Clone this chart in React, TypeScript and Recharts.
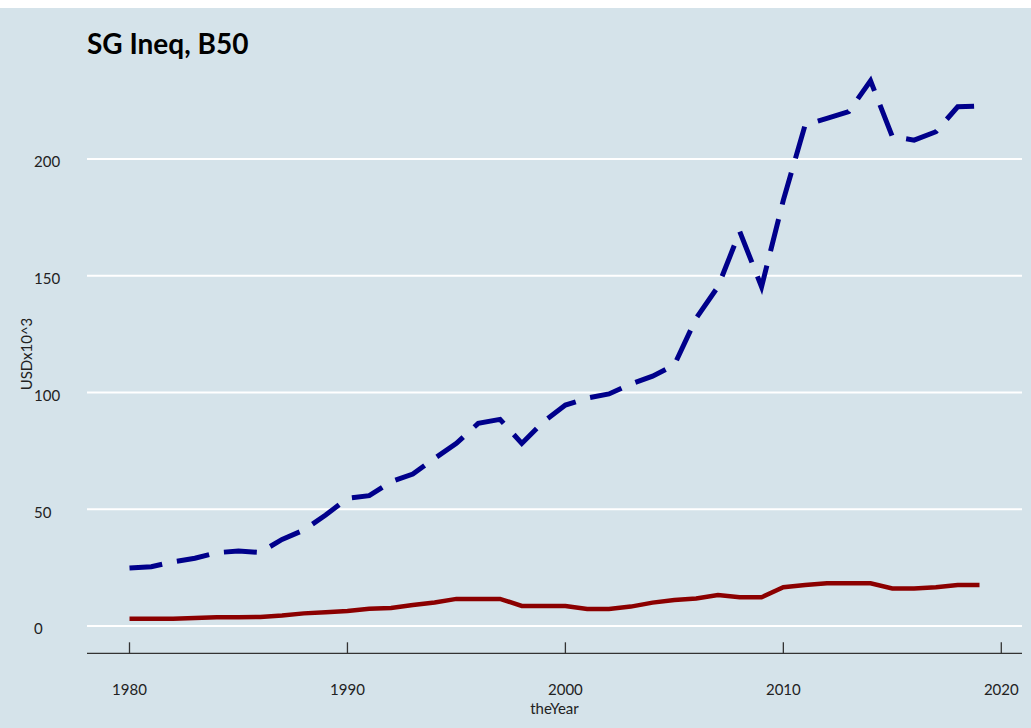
import React from 'react';
import { LineChart, Line, XAxis, YAxis, CartesianGrid } from 'recharts';

const years = [1980, 1981, 1982, 1983, 1984, 1985, 1986, 1987, 1988, 1989, 1990, 1991, 1992, 1993, 1994, 1995, 1996, 1997, 1998, 1999, 2000, 2001, 2002, 2003, 2004, 2005, 2006, 2007, 2008, 2009, 2010, 2011, 2012, 2013, 2014, 2015, 2016, 2017, 2018, 2019];
const topSeries = [24.8, 25.4, 27.5, 29.0, 31.4, 32.1, 31.5, 37.1, 41.1, 47.5, 54.7, 55.8, 61.8, 65.1, 71.8, 78.2, 86.8, 88.5, 78.2, 87.5, 94.6, 97.6, 99.4, 103.6, 107.0, 111.8, 131.8, 145.3, 168.9, 145.3, 182.4, 214.6, 217.4, 220.3, 233.5, 209.6, 208.1, 211.7, 222.4, 222.7];
const b50Series = [3.1, 3.1, 3.1, 3.4, 3.7, 3.7, 3.9, 4.5, 5.4, 5.9, 6.4, 7.4, 7.7, 9.0, 10.1, 11.6, 11.6, 11.6, 8.6, 8.6, 8.6, 7.3, 7.3, 8.3, 10.0, 11.1, 11.8, 13.3, 12.3, 12.3, 16.6, 17.6, 18.3, 18.3, 18.3, 16.1, 16.1, 16.6, 17.6, 17.6];
const xTicks = [1980, 1990, 2000, 2010, 2020];
const yTicks = [0, 50, 100, 150, 200];
const yDomain = [-11.7, 245.2];
const titleText = 'SG Ineq, B50';
const xLabel = 'theYear';
const yLabel = 'USDx10^3';

const data = years.map((y, i) => ({ year: y, top: topSeries[i], b50: b50Series[i] }));

const FONT = 'Lato, "Open Sans", sans-serif';
const BG = '#d5e3ea';

const XTick = (props: any) => {
  const { x, y, payload } = props;
  return (
    <g>
      <line x1={x} x2={x} y1={y - 11} y2={y} stroke="#333" strokeWidth={1.3} />
      <text x={x} y={y + 42} textAnchor="middle" fontFamily={FONT} fontSize={15} fill="#222">
        {payload.value}
      </text>
    </g>
  );
};

const YLabel = () => (
  <text
    x={26}
    y={346}
    transform="rotate(-90 26 346)"
    textAnchor="middle"
    dominantBaseline="central"
    fontFamily={FONT}
    fontSize={15}
    fill="#222"
  >
    {yLabel}
  </text>
);

const gridGen = (props: any) => {
  const off = props?.offset;
  if (!off) return [];
  const [lo, hi] = yDomain;
  return yTicks.map((t) => off.top + (off.height * (hi - t)) / (hi - lo));
};

export default function App() {
  return (
    <div style={{ width: 1031, height: 728, position: 'absolute', left: 0, top: 0, background: '#fff' }}>
      <div style={{ position: 'absolute', left: 0, top: 8, width: 1031, height: 720, background: BG }}>
        <div
          style={{
            position: 'absolute',
            left: 87,
            top: 21,
            fontFamily: FONT,
            fontWeight: 700,
            fontSize: 28,
            lineHeight: '28px',
            color: '#000',
          }}
        >
          {titleText}
        </div>
        <LineChart width={1031} height={720} data={data} margin={{ top: 45.5, right: 9, bottom: 0, left: 0 }}>
          <CartesianGrid vertical={false} stroke="#ffffff" strokeWidth={2} horizontalCoordinatesGenerator={gridGen} />
          <XAxis
            dataKey="year"
            type="number"
            domain={[1978.05, 2020.95]}
            ticks={xTicks}
            allowDataOverflow
            height={74.7}
            tickSize={0}
            tickMargin={0}
            tickLine={false}
            axisLine={{ stroke: '#333', strokeWidth: 1.3 }}
            tick={<XTick />}
            interval={0}
            label={{ value: xLabel, position: 'insideBottom', offset: 14, fontFamily: FONT, fontSize: 15, fill: '#222' }}
          />
          <YAxis
            type="number"
            domain={yDomain}
            ticks={yTicks}
            allowDataOverflow
            width={87}
            tickSize={0}
            tickMargin={0}
            tickLine={false}
            axisLine={false}
            interval={0}
            tick={{ textAnchor: 'start', dx: -53, dy: 3, fontFamily: FONT, fontSize: 15, fill: '#222' }}
            label={{ content: () => <YLabel /> }}
          />
          <Line
            type="linear"
            dataKey="top"
            stroke="#00008b"
            strokeWidth={5}
            strokeDasharray="33 15"
            dot={false}
            isAnimationActive={false}
          />
          <Line
            type="linear"
            dataKey="b50"
            stroke="#8b0000"
            strokeWidth={4.5}
            dot={false}
            isAnimationActive={false}
          />
        </LineChart>
      </div>
    </div>
  );
}
